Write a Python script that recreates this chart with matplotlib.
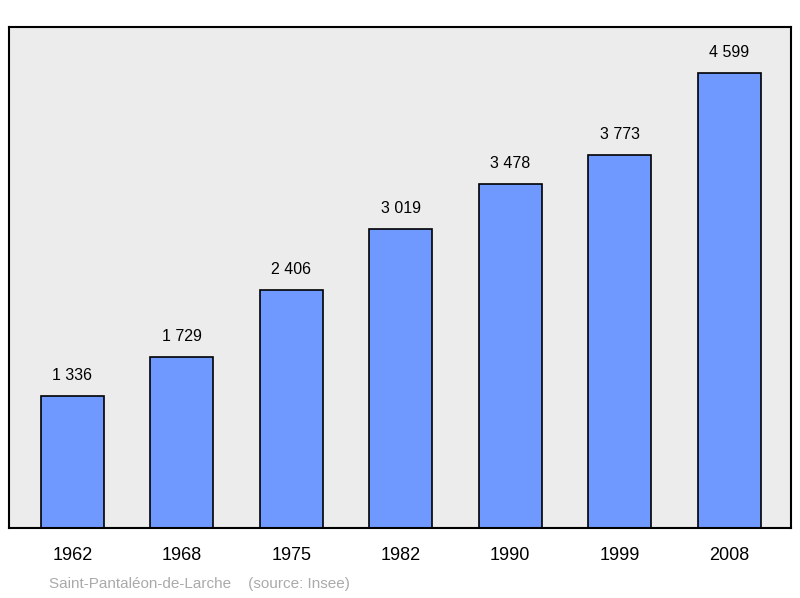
import matplotlib
matplotlib.use("Agg")
import matplotlib.pyplot as plt

years = ["1962", "1968", "1975", "1982", "1990", "1999", "2008"]
population = [1336, 1729, 2406, 3019, 3478, 3773, 4599]
labels = ["1 336", "1 729", "2 406", "3 019", "3 478", "3 773", "4 599"]

plt.rcParams['font.family'] = ['Liberation Sans', 'DejaVu Sans']
fig = plt.figure(figsize=(8, 5.98), dpi=100)
ax = fig.add_axes([9/800, 1-528/598, 782/800, 501/598])
ax.set_facecolor('#ececec')
x = range(len(years))
ax.bar(x, population, width=0.575, color='#7099ff', edgecolor='black', linewidth=1.2, zorder=2)
for i, (v, l) in enumerate(zip(population, labels)):
    ax.text(i, v + 130, l, ha='center', va='bottom', fontsize=11.5)
ax.set_xlim(-0.58, 6.565)
ax.set_ylim(0, 5064)
ax.set_xticks(list(x))
ax.set_xticklabels(years, fontsize=13)
ax.set_yticks([])
ax.tick_params(axis='x', length=0, pad=14)
for s in ax.spines.values():
    s.set_linewidth(1.5)
fig.text(49/800, 1-584/598, "Saint-Pantaléon-de-Larche    (source: Insee)", color='#aaaaaa', fontsize=11, va='center')
fig.savefig("out.png", dpi=100)
